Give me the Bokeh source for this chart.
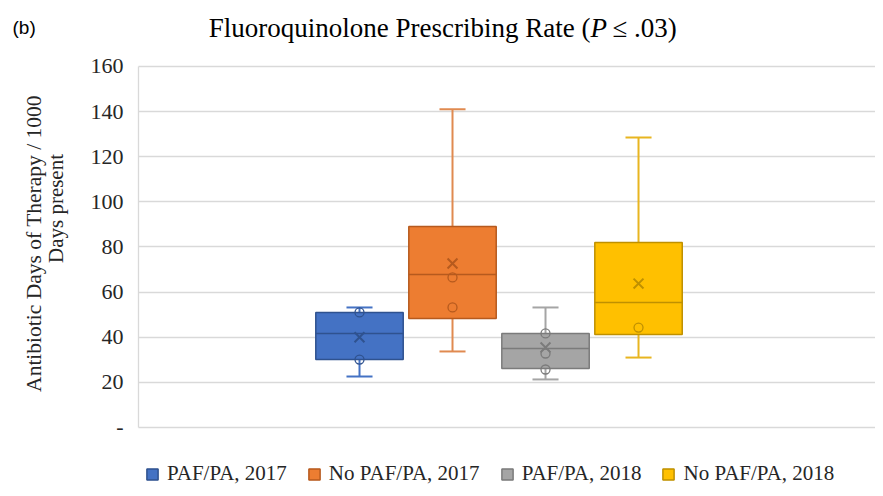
import math
from bokeh.plotting import figure
from bokeh.models import (ColumnDataSource, FixedTicker, Label, Legend, LegendItem, Range1d)
from bokeh.embed import file_html
from bokeh.resources import INLINE

# ---- data ----
series = ["PAF/PA, 2017", "No PAF/PA, 2017", "PAF/PA, 2018", "No PAF/PA, 2018"]
q1 = [30.1, 48.3, 26.2, 41.2]
q3 = [51.0, 89.1, 41.7, 82.0]
median = [41.7, 67.8, 35.0, 55.4]
mean = [40.0, 72.7, 35.5, 63.8]
whisker_low = [22.6, 33.7, 21.3, 31.0]
whisker_high = [53.2, 141.0, 53.2, 128.5]
inner_points = [[51.0, 30.1], [66.5, 53.2], [41.7, 32.8, 25.7], [44.3]]
y_ticks = [0, 20, 40, 60, 80, 100, 120, 140, 160]
y_tick_labels = ["-", "20", "40", "60", "80", "100", "120", "140", "160"]

fill_colors = ["#4472C4", "#ED7D31", "#A5A5A5", "#FFC000"]
line_colors = ["#2F528F", "#B65A1E", "#7B7B7B", "#BF9000"]
whisker_colors = ["#4472C4", "#E08A50", "#A5A5A5", "#E8B520"]

xs = list(range(len(series)))
box_w = 0.94
cap_w = 0.28
axis_x = -2.376  # category-axis origin (left edge of plotting area)

src = ColumnDataSource(dict(
    x=xs, series=series, q1=q1, q3=q3, median=median, mean=mean,
    lo=whisker_low, hi=whisker_high,
    left=[x - box_w / 2 for x in xs], right=[x + box_w / 2 for x in xs],
    cl=[x - cap_w / 2 for x in xs], cr=[x + cap_w / 2 for x in xs],
    fill=fill_colors, line=line_colors, wcol=whisker_colors,
))

px, py, pcol = [], [], []
for i, pts in enumerate(inner_points):
    for v in pts:
        px.append(xs[i]); py.append(v); pcol.append(line_colors[i])
psrc = ColumnDataSource(dict(x=px, y=py, c=pcol))

W, H = 875, 488
p = figure(width=W, height=H, output_backend="svg", toolbar_location=None,
           x_range=Range1d(-3.860, 5.548), y_range=Range1d(-27.036, 189.25),
           min_border_left=0, min_border_right=0, min_border_top=0, min_border_bottom=0)
p.outline_line_color = None
p.background_fill_color = "white"
p.xaxis.visible = False
p.xgrid.visible = False

p.yaxis.fixed_location = axis_x
p.yaxis.bounds = (0, 160)
p.yaxis.ticker = FixedTicker(ticks=y_ticks)
p.yaxis.major_label_overrides = {t: l for t, l in zip(y_ticks, y_tick_labels)}
p.yaxis.axis_line_color = "#D9D9D9"
p.yaxis.axis_line_width = 1.3
p.yaxis.major_tick_line_color = None
p.yaxis.minor_tick_line_color = None
p.yaxis.major_tick_out = 0
p.yaxis.major_tick_in = 0
p.yaxis.minor_tick_out = 0
p.yaxis.major_label_text_font = "Liberation Serif"
p.yaxis.major_label_text_font_size = "22px"
p.yaxis.major_label_text_color = "#262626"
p.yaxis.major_label_standoff = 15

p.ygrid.grid_line_color = "#D9D9D9"
p.ygrid.grid_line_width = 1.3
p.ygrid.cross_bounds = (axis_x, 5.548)

# whiskers
p.segment(x0="x", y0="q3", x1="x", y1="hi", source=src, line_color="wcol", line_width=2)
p.segment(x0="x", y0="q1", x1="x", y1="lo", source=src, line_color="wcol", line_width=2)
p.segment(x0="cl", y0="hi", x1="cr", y1="hi", source=src, line_color="wcol", line_width=2)
p.segment(x0="cl", y0="lo", x1="cr", y1="lo", source=src, line_color="wcol", line_width=2)
# boxes
boxes = p.vbar(x="x", width=box_w, top="q3", bottom="q1", source=src,
               fill_color="fill", line_color="line", line_width=1.5)
# median
p.segment(x0="left", y0="median", x1="right", y1="median", source=src,
          line_color="line", line_width=1.5)
# inner points
p.scatter(x="x", y="y", source=psrc, marker="circle", size=9, fill_alpha=0,
          line_color="c", line_width=1.3)
# mean
p.scatter(x="x", y="mean", source=src, marker="x", size=14, line_color="line", line_width=2)

legend = Legend(items=[LegendItem(label=s, renderers=[boxes], index=i) for i, s in enumerate(series)],
                orientation="horizontal", location=(145, 2),
                label_text_font="Liberation Serif", label_text_font_size="21px",
                label_text_color="#262626",
                glyph_width=14, glyph_height=14, spacing=20, label_standoff=8,
                padding=0, margin=0, border_line_alpha=0, background_fill_alpha=0)
p.add_layout(legend, "center")

# title pieces (screen units from bottom-left of the canvas-filling frame)
tfs = "27px"
ty = H - 27
p.add_layout(Label(x=590, y=ty, x_units="screen", y_units="screen",
                   text="Fluoroquinolone Prescribing Rate (", text_align="right",
                   text_baseline="middle", text_font="Liberation Serif", text_font_size=tfs,
                   text_color="#000000"))
p.add_layout(Label(x=590, y=ty, x_units="screen", y_units="screen",
                   text="P", text_align="left", text_font_style="italic",
                   text_baseline="middle", text_font="Liberation Serif", text_font_size=tfs,
                   text_color="#000000"))
p.add_layout(Label(x=612, y=ty, x_units="screen", y_units="screen",
                   text="\u2264 .03)", text_align="left",
                   text_baseline="middle", text_font="Liberation Serif", text_font_size=tfs,
                   text_color="#000000"))
p.add_layout(Label(x=12, y=ty, x_units="screen", y_units="screen",
                   text="(b)", text_align="left", text_baseline="middle",
                   text_font="Liberation Sans", text_font_size="19px", text_color="#000000"))

# y axis title (two lines)
p.add_layout(Label(x=33, y=H - 243, x_units="screen", y_units="screen", angle=math.pi / 2,
                   text="Antibiotic Days of Therapy / 1000", text_align="center",
                   text_baseline="middle", text_font="Liberation Serif", text_font_size="21.5px",
                   text_color="#262626"))
p.add_layout(Label(x=55, y=H - 208, x_units="screen", y_units="screen", angle=math.pi / 2,
                   text="Days present", text_align="center",
                   text_baseline="middle", text_font="Liberation Serif", text_font_size="21px",
                   text_color="#262626"))

open("out.html", "w").write(file_html(p, INLINE))
